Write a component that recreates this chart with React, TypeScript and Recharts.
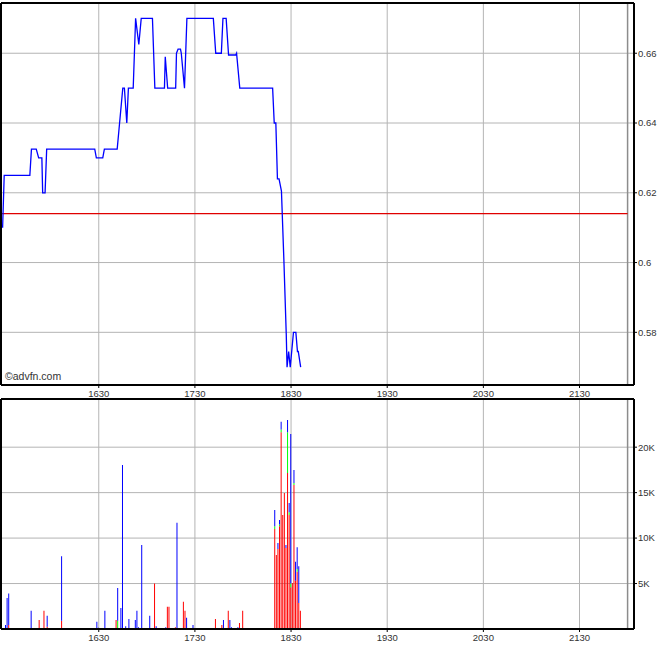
import { ComposedChart, Line, Bar, XAxis, YAxis, CartesianGrid, ReferenceLine } from "recharts";

// time is minutes since midnight (990 = 16:30)
const priceTimes = [
  930, 931, 947, 948, 951, 952.5, 954.5, 955, 956.5, 957.5, 987.5, 988.5, 992.5, 993.5, 1001.5, 1002.5,
  1005, 1006, 1007.5, 1008.5, 1011.5, 1013, 1015, 1016.5, 1023.5, 1025, 1031, 1031.5, 1033, 1038, 1038.5,
  1039.5, 1041, 1041.5, 1043.5, 1045, 1061.5, 1063, 1066.5, 1067.5, 1069.5, 1071, 1075.5, 1076, 1078,
  1098.5, 1099.5, 1100.5, 1101.5, 1102.5, 1104, 1105.5, 1107, 1107.5, 1108.5, 1109.5, 1110, 1111.5, 1113,
  1114, 1114.5, 1116,
];
const priceValues = [
  0.61, 0.625, 0.625, 0.6325, 0.6325, 0.63, 0.63, 0.62, 0.62, 0.6325, 0.6325, 0.63, 0.63, 0.6325, 0.6325, 0.6375,
  0.65, 0.65, 0.64, 0.65, 0.65, 0.67, 0.6625, 0.67, 0.67, 0.65, 0.65, 0.659, 0.65, 0.65, 0.66,
  0.6612, 0.6612, 0.66, 0.65, 0.67, 0.67, 0.66, 0.66, 0.67, 0.67, 0.6595, 0.6595, 0.66, 0.65,
  0.65, 0.64, 0.64, 0.624, 0.624, 0.6205, 0.601, 0.5795, 0.57, 0.5745, 0.57, 0.5725, 0.58, 0.58,
  0.5745, 0.5745, 0.57,
];
const prevClose = 0.614;

const volTimes = [
  932, 933, 934, 948, 953, 956, 958, 967, 989, 990, 994, 1001, 1002, 1003, 1004, 1005, 1007, 1009, 1013, 1014,
  1015, 1017, 1022, 1025, 1026, 1032, 1033, 1034, 1038, 1039, 1043, 1044, 1045, 1049, 1056, 1063, 1067, 1068,
  1071, 1072, 1073, 1077, 1078, 1080, 1100, 1101, 1102, 1103, 1104, 1105, 1106, 1107, 1108, 1109, 1110, 1111,
  1112, 1113, 1114, 1115, 1116,
];
const volRed = [
  0, 0, 450, 0, 1000, 2000, 250, 900, 0, 0, 0, 1000, 0, 0, 0, 0, 0, 0, 0, 0,
  0, 0, 0, 5000, 0, 0, 2450, 2450, 200, 0, 3000, 2000, 0, 0, 0, 1100, 450, 0,
  2000, 0, 0, 0, 650, 2000, 11000, 8150, 8800, 11300, 21650, 12550, 14950, 8900, 17150, 12550, 4600, 5050,
  15850, 5300, 6300, 2850, 2000,
];
const volGreen = [
  0, 0, 0, 0, 0, 0, 0, 0, 0, 0, 0, 0, 900, 0, 0, 0, 0, 0, 0, 0,
  0, 0, 0, 0, 0, 0, 0, 0, 0, 0, 0, 0, 0, 0, 0, 0, 0, 0,
  0, 0, 0, 0, 0, 0, 300, 0, 0, 200, 300, 0, 0, 0, 4500, 300, 400, 0,
  200, 0, 300, 0, 0,
];
const volBlue = [
  450, 3400, 3450, 2000, 0, 0, 1200, 7100, 800, 150, 2000, 0, 3600, 100, 2300, 18050, 300, 1100, 1000, 2000,
  200, 9250, 1450, 0, 300, 200, 0, 0, 0, 11700, 0, 0, 1250, 450, 100, 0, 0, 1000,
  0, 1000, 200, 200, 0, 0, 1800, 0, 650, 500, 850, 0, 0, 350, 1350, 1000, 16450, 0,
  1450, 2100, 2400, 4050, 0,
];

const timeTicks = [990, 1050, 1110, 1170, 1230, 1290];
const priceTicks = [0.58, 0.6, 0.62, 0.64, 0.66];
const priceMinorTicks = [0.57, 0.58, 0.59, 0.6, 0.61, 0.62, 0.63, 0.64, 0.65, 0.66, 0.67];
const volTicks = [5000, 10000, 15000, 20000];
const volMinorTicks = [2500, 5000, 7500, 10000, 12500, 15000, 17500, 20000, 22500];

const priceData = priceTimes.map((t, i) => ({ t, price: priceValues[i] }));
const volData = volTimes.map((t, i) => ({ t, red: volRed[i], green: volGreen[i], blue: volBlue[i] }));

const X_DOMAIN: [number, number] = [929, 1324];
const FONT = "'Liberation Sans', Arial, sans-serif";
const tickStyle = { fontSize: 9.5, fill: "#333", fontFamily: FONT };
const frame = { stroke: "#000", strokeWidth: 2 };
const hhmm = (m: number) => `${Math.floor(m / 60)}${String(m % 60).padStart(2, "0")}`;

export default function App() {
  return (
    <div style={{ position: "absolute", left: 0, top: 0, width: 670, height: 647, background: "#fff" }}>
      <div style={{ position: "absolute", left: 0, top: 0 }}>
        <ComposedChart width={670} height={399} data={priceData} margin={{ top: 2, right: 0, bottom: 0, left: 1 }}>
          <CartesianGrid xAxisId="b" yAxisId="r" stroke="#b4b4b4" />
          <XAxis xAxisId="b" dataKey="t" type="number" domain={X_DOMAIN} ticks={timeTicks} tickFormatter={hhmm}
            height={14} tickSize={3} tickMargin={2} axisLine={frame} tickLine={{ stroke: "#000" }} tick={tickStyle}
            allowDataOverflow />
          <XAxis xAxisId="t" dataKey="t" type="number" orientation="top" domain={X_DOMAIN} height={1}
            ticks={timeTicks} tick={false} tickLine={false} axisLine={frame} allowDataOverflow />
          <YAxis yAxisId="l" orientation="left" width={1} mirror domain={[0.5649, 0.6744]} ticks={priceMinorTicks}
            tick={false} tickSize={3} axisLine={frame} tickLine={{ stroke: "#000" }} allowDataOverflow />
          <YAxis yAxisId="r" orientation="right" width={36} domain={[0.5649, 0.6744]} ticks={priceTicks}
            tickSize={3} tickMargin={1} axisLine={frame} tickLine={{ stroke: "#000" }} tick={tickStyle}
            tickFormatter={(v: number) => String(+v.toFixed(2))} allowDataOverflow />
          <ReferenceLine xAxisId="b" yAxisId="r" x={1320} stroke="#8c8c8c" strokeWidth={1.5} />
          <ReferenceLine xAxisId="b" yAxisId="r" segment={[{ x: 929, y: prevClose }, { x: 1320, y: prevClose }]}
            stroke="#e00000" strokeWidth={1.2} />
          <Line xAxisId="b" yAxisId="r" type="linear" dataKey="price" stroke="#0000ff" strokeWidth={1.3}
            dot={false} isAnimationActive={false} />
        </ComposedChart>
      </div>
      <div style={{ position: "absolute", left: 5, top: 370, fontFamily: FONT, fontSize: 10.5, color: "#333" }}>
        ©advfn.com
      </div>
      <div style={{ position: "absolute", left: 0, top: 386 }}>
        <ComposedChart width={670} height={261} data={volData} margin={{ top: 12, right: 0, bottom: 2, left: 1 }}>
          <CartesianGrid xAxisId="b" yAxisId="r" stroke="#b4b4b4" />
          <XAxis xAxisId="b" dataKey="t" type="number" domain={X_DOMAIN} ticks={timeTicks} tickFormatter={hhmm}
            height={16} tickSize={3} tickMargin={2} axisLine={frame} tickLine={{ stroke: "#000" }} tick={tickStyle}
            allowDataOverflow />
          <XAxis xAxisId="t" dataKey="t" type="number" orientation="top" domain={X_DOMAIN} height={1}
            ticks={timeTicks} tick={false} tickLine={false} axisLine={frame} allowDataOverflow />
          <YAxis yAxisId="l" orientation="left" width={1} mirror domain={[0, 25300]} ticks={volMinorTicks}
            tick={false} tickSize={3} axisLine={frame} tickLine={{ stroke: "#000" }} allowDataOverflow />
          <YAxis yAxisId="r" orientation="right" width={36} domain={[0, 25300]} ticks={volTicks}
            tickSize={3} tickMargin={1} axisLine={frame} tickLine={{ stroke: "#000" }} tick={tickStyle}
            tickFormatter={(v: number) => `${v / 1000}K`} allowDataOverflow />
          <ReferenceLine xAxisId="b" yAxisId="r" x={1320} stroke="#8c8c8c" strokeWidth={1.5} />
          <Bar xAxisId="b" yAxisId="r" dataKey="red" stackId="v" fill="#ff0000" barSize={1} isAnimationActive={false} />
          <Bar xAxisId="b" yAxisId="r" dataKey="green" stackId="v" fill="#00ff00" barSize={1} isAnimationActive={false} />
          <Bar xAxisId="b" yAxisId="r" dataKey="blue" stackId="v" fill="#0000ff" barSize={1} isAnimationActive={false} />
        </ComposedChart>
      </div>
    </div>
  );
}
